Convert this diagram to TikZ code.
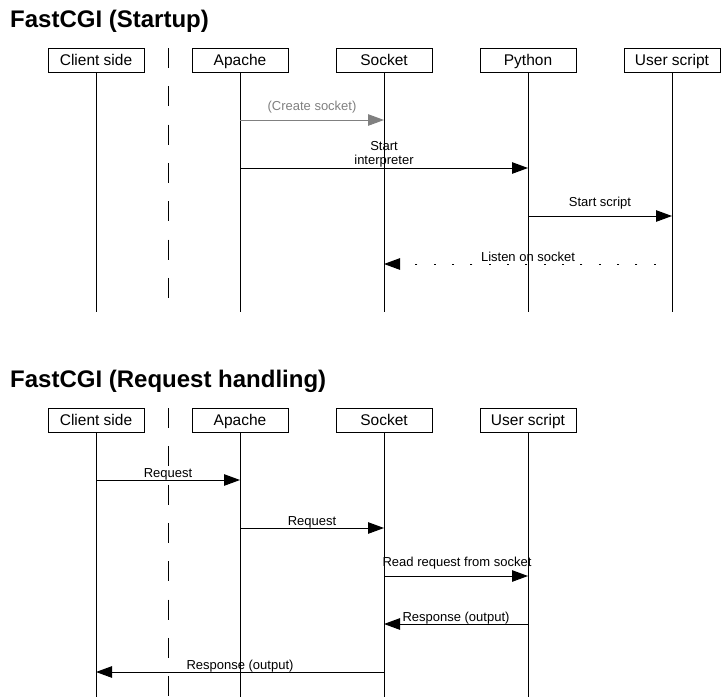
\documentclass[tikz,border=0pt]{standalone}
\usepackage{fontspec}
\setmainfont{Liberation Sans}
\usetikzlibrary{arrows.meta}
\definecolor{msggray}{RGB}{128,128,128}
\tikzset{
  actor/.style={draw=black, line width=1pt, minimum width=96pt, minimum height=24pt,
    inner sep=0pt, text height=11.1pt, text depth=0pt,
    font=\fontsize{15.5}{18}\selectfont},
  lifeline/.style={line width=1pt},
  divider/.style={line width=1pt, dash pattern=on 20pt off 18.33pt},
  msg/.style={anchor=base, inner sep=0pt, font=\fontsize{13}{15.5}\selectfont},
  arr/.style={line width=1pt, -{Triangle[length=16pt,width=11.5pt]}},
  dotarr/.style={arr, dash pattern=on 2pt off 16.33pt, dash phase=2pt},
  grayarr/.style={arr, draw=msggray, color=msggray},
  ttl/.style={anchor=base west, inner sep=0pt, font=\fontsize{24}{28}\selectfont\bfseries}
}
\begin{document}
\begin{tikzpicture}[x=1pt,y=-1pt]
\useasboundingbox (0,0) rectangle (721,697);

% ---------- Startup ----------
\node[ttl] (t1) at (10,27) {FastCGI (Startup)};
\node[actor] (c1) at (96,60) {Client side};
\node[actor] (a1) at (240,60) {Apache};
\node[actor] (s1) at (384,60) {Socket};
\node[actor] (p1) at (528,60) {Python};
\node[actor] (u1) at (672,60) {User script};

\coordinate (c1e) at (96,312);
\coordinate (a1e) at (240,312);
\coordinate (s1e) at (384,312);
\coordinate (p1e) at (528,312);
\coordinate (u1e) at (672,312);
\draw[lifeline] (c1.south) -- (c1e);
\draw[lifeline] (a1.south) -- (a1e);
\draw[lifeline] (s1.south) -- (s1e);
\draw[lifeline] (p1.south) -- (p1e);
\draw[lifeline] (u1.south) -- (u1e);

\coordinate (d1s) at (168,48);
\coordinate (d1e) at (168,298);
\draw[divider] (d1s) -- (d1e);

\coordinate (m1a) at (240,120); \coordinate (m1b) at (384,120);
\draw[grayarr] (m1a) -- (m1b);
\node[msg, text=msggray] (l1) at (312,110) {(Create socket)};

\coordinate (m2a) at (240,168); \coordinate (m2b) at (528,168);
\draw[arr] (m2a) -- (m2b);
\node[msg] (l2a) at (384,150) {Start};
\node[msg] (l2b) at (384,164) {interpreter};

\coordinate (m3a) at (528,216); \coordinate (m3b) at (672,216);
\draw[arr] (m3a) -- (m3b);
\node[msg] (l3) at (600,206) {Start script};

\coordinate (m4a) at (672,264); \coordinate (m4b) at (384,264);
\draw[dotarr] (m4a) -- (m4b);
\node[msg] (l4) at (528,261) {Listen on socket};

% ---------- Request handling ----------
\node[ttl] (t2) at (10,387) {FastCGI (Request handling)};
\node[actor] (c2) at (96,420) {Client side};
\node[actor] (a2) at (240,420) {Apache};
\node[actor] (s2) at (384,420) {Socket};
\node[actor] (u2) at (528,420) {User script};

\coordinate (c2e) at (96,697);
\coordinate (a2e) at (240,697);
\coordinate (s2e) at (384,697);
\coordinate (u2e) at (528,697);
\draw[lifeline] (c2.south) -- (c2e);
\draw[lifeline] (a2.south) -- (a2e);
\draw[lifeline] (s2.south) -- (s2e);
\draw[lifeline] (u2.south) -- (u2e);

\coordinate (d2s) at (168,408);
\coordinate (d2e) at (168,697);
\draw[divider] (d2s) -- (d2e);

\coordinate (n1a) at (96,480); \coordinate (n1b) at (240,480);
\draw[arr] (n1a) -- (n1b);
\node[msg] (k1) at (168,477) {Request};

\coordinate (n2a) at (240,528); \coordinate (n2b) at (384,528);
\draw[arr] (n2a) -- (n2b);
\node[msg] (k2) at (312,525) {Request};

\coordinate (n3a) at (384,576); \coordinate (n3b) at (528,576);
\draw[arr] (n3a) -- (n3b);
\node[msg] (k3) at (457,566) {Read request from socket};

\coordinate (n4a) at (528,624); \coordinate (n4b) at (384,624);
\draw[arr] (n4a) -- (n4b);
\node[msg] (k4) at (456,621) {Response (output)};

\coordinate (n5a) at (384,672); \coordinate (n5b) at (96,672);
\draw[arr] (n5a) -- (n5b);
\node[msg] (k5) at (240,669) {Response (output)};
\end{tikzpicture}
\end{document}
